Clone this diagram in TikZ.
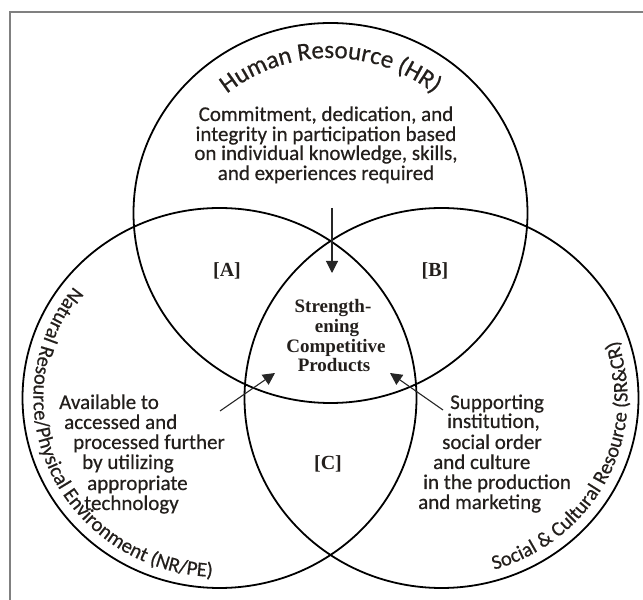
\documentclass[tikz,border=0pt]{standalone}
\usepackage{fontspec}
\setmainfont{Carlito}[FakeBold=0.5]
\newfontfamily\timesfont{Liberation Serif}
\usetikzlibrary{arrows.meta,decorations.text}
\definecolor{txt}{HTML}{231F1C}
\newcommand\curvefont{\fontsize{25}{25}\selectfont}
\newcommand\curvefontb{\fontsize{20.5}{20.5}\selectfont}
\begin{document}
\begin{tikzpicture}[x=1pt,y=1pt,
  venn/.style={draw=black, line width=1.8pt},
  body/.style={font=\fontsize{21}{19.5}\selectfont, text=txt, inner sep=0pt},
  tag/.style={font=\timesfont\bfseries\fontsize{20}{20}\selectfont, text=txt, inner sep=0pt},
  ctr/.style={font=\timesfont\bfseries\fontsize{19}{19.5}\selectfont, text=txt, inner sep=0pt, anchor=base},
  arr/.style={-{Triangle[length=12pt,width=12pt]}, line width=1.1pt, draw=black!85},
  curve/.style={decorate, decoration={text along path, text align=center, text color=txt}}
]
\useasboundingbox (0,0) rectangle (643,600);
\clip (0,0) rectangle (643,600);
% frame
\draw[draw=black!50, line width=1.5pt] (10,-10) |- (660,588);
% circles
\draw[venn] (330.5,387) ellipse [x radius=197, y radius=190];
\draw[venn] (219.5,202) ellipse [x radius=197, y radius=190];
\draw[venn] (441.5,202) ellipse [x radius=197, y radius=190];
% curved labels
\path[curve, decoration={text={|\curvefont|Human Resource (HR)}}]
  (330.5,387) ++(170:162 and 155) arc[start angle=170, end angle=10, x radius=162, y radius=155];
\path[curve, decoration={text={|\curvefontb|Natural Resource/Physical Environment (NR/PE)}}]
  (219.5,202) ++(114:186 and 179) arc[start angle=114, end angle=295, x radius=186, y radius=179];
\path[curve, decoration={text={|\curvefontb|Social {\&} Cultural Resource (SR{\&}CR)}}]
  (441.5,202) ++(-107:186 and 179) arc[start angle=-107, end angle=53, x radius=186, y radius=179];
% HR text
\node[body, anchor=base] (h1) at (326,479) {Commitment, dedication, and};
\node[body, anchor=base] (h2) at (326,459) {integrity in participation based};
\node[body, anchor=base] (h3) at (326,440) {on individual knowledge, skills,};
\node[body, anchor=base] (h4) at (326,420) {and experiences required};
% NR text
\node[body, anchor=base west] (n1) at (59,191) {Available to};
\node[body, anchor=base west] (n2) at (64,171) {accessed and};
\node[body, anchor=base west] (n3) at (73,151) {processed further};
\node[body, anchor=base west] (n4) at (82,131) {by utilizing};
\node[body, anchor=base west] (n5) at (87,110) {appropriate};
\node[body, anchor=base west] (n6) at (84,90) {technology};
% SR text
\node[body, anchor=base west] (s1) at (450,191) {Supporting};
\node[body, anchor=base west] (s2) at (447,172) {institution,};
\node[body, anchor=base west] (s3) at (442,151) {social order};
\node[body, anchor=base west] (s4) at (433,131) {and culture};
\node[body, anchor=base west] (s5) at (423,111) {in the production};
\node[body, anchor=base west] (s6) at (418,91) {and marketing};
% region tags
\node[tag] (A) at (227,329) {[A]};
\node[tag] (B) at (435,329) {[B]};
\node[tag] (C) at (328,136) {[C]};
% centre
\node[ctr] (c1) at (333,287) {Strength-};
\node[ctr] (c2) at (337,267) {ening};
\node[ctr] (c3) at (336,247) {Competitive};
\node[ctr] (c4) at (334,228) {Products};
% arrows
\coordinate (t0) at (332,392);
\coordinate (t1) at (332,327);
\coordinate (l0) at (220,189);
\coordinate (l1) at (275,227);
\coordinate (r0) at (443,190);
\coordinate (r1) at (390,227);
\draw[arr] (t0) -- (t1);
\draw[arr] (l0) -- (l1);
\draw[arr] (r0) -- (r1);
\end{tikzpicture}
\end{document}
